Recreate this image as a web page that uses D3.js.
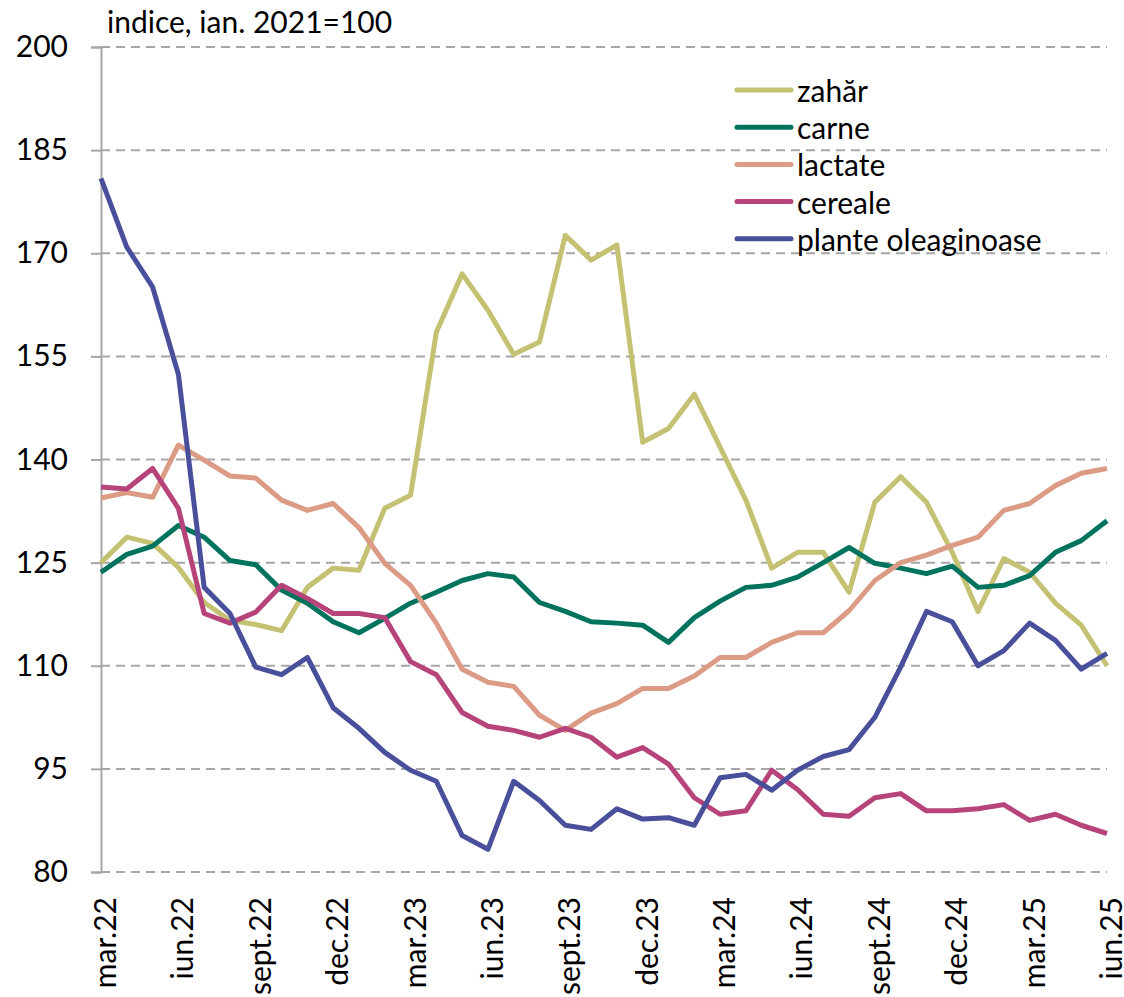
<!DOCTYPE html>
<html>
<head>
<meta charset="utf-8">
<script src="https://cdn.jsdelivr.net/npm/d3@7"></script>
<style>
  body { margin: 0; background: #fff; }
  svg text { font-family: Lato, "Liberation Sans", sans-serif; fill: #000; }
</style>
</head>
<body>
<div id="chart"></div>
<script>
const width = 1124,
    height = 997;

// luni, mar.22 - iun.25
const months = ['mar.22', 'apr.22', 'mai.22', 'iun.22', 'iul.22', 'aug.22', 'sept.22', 'oct.22', 'nov.22', 'dec.22',
    'ian.23', 'feb.23', 'mar.23', 'apr.23', 'mai.23', 'iun.23', 'iul.23', 'aug.23', 'sept.23', 'oct.23', 'nov.23', 'dec.23',
    'ian.24', 'feb.24', 'mar.24', 'apr.24', 'mai.24', 'iun.24', 'iul.24', 'aug.24', 'sept.24', 'oct.24', 'nov.24', 'dec.24',
    'ian.25', 'feb.25', 'mar.25', 'apr.25', 'mai.25', 'iun.25'];

const zahar = [125.0, 128.7, 127.8, 124.3, 119.2, 116.6, 116.0, 115.1, 121.4, 124.2,
    123.9, 132.9, 134.8, 158.5, 167.0, 161.7, 155.3, 157.1, 172.6, 169.0, 171.2, 142.5,
    144.5, 149.5, 141.8, 134.1, 124.2, 126.5, 126.5, 120.7, 133.8, 137.5, 133.8, 126.5,
    117.9, 125.6, 123.6, 119.1, 115.9, 110.0];

const carne = [123.6, 126.2, 127.4, 130.4, 128.7, 125.3, 124.7, 121.0, 119.1, 116.4,
    114.8, 116.9, 119.1, 120.7, 122.4, 123.4, 122.9, 119.2, 117.9, 116.4, 116.2, 115.9,
    113.4, 117.0, 119.4, 121.4, 121.7, 122.9, 125.0, 127.2, 124.9, 124.2, 123.4, 124.5,
    121.4, 121.7, 123.1, 126.5, 128.2, 131.1];

const lactate = [134.4, 135.2, 134.5, 142.1, 139.9, 137.6, 137.3, 134.1, 132.6, 133.6,
    130.1, 124.9, 121.7, 116.2, 109.5, 107.6, 107.0, 102.8, 100.6, 103.1, 104.5, 106.7,
    106.7, 108.5, 111.2, 111.2, 113.4, 114.8, 114.8, 118.0, 122.4, 125.0, 126.1, 127.5,
    128.7, 132.6, 133.6, 136.2, 138.0, 138.7];

const cereale = [136.0, 135.7, 138.7, 132.9, 117.6, 116.2, 117.8, 121.7, 119.8, 117.6,
    117.6, 117.0, 110.6, 108.7, 103.2, 101.2, 100.6, 99.6, 100.9, 99.6, 96.7, 98.1,
    95.7, 90.8, 88.4, 88.9, 94.8, 92.0, 88.4, 88.1, 90.8, 91.4, 88.9, 88.9,
    89.2, 89.8, 87.5, 88.4, 86.8, 85.6];

const plante = [180.9, 170.9, 165.1, 152.4, 121.4, 117.6, 109.8, 108.7, 111.2, 103.9,
    100.9, 97.4, 94.8, 93.2, 85.3, 83.3, 93.2, 90.4, 86.8, 86.2, 89.2, 87.7,
    87.9, 86.8, 93.7, 94.2, 91.9, 94.8, 96.8, 97.8, 102.5, 109.8, 117.9, 116.4,
    110.0, 112.2, 116.2, 113.7, 109.5, 111.8];

const yTicks = [80, 95, 110, 125, 140, 155, 170, 185, 200];

const series = [
    {name: 'zahăr', values: zahar, color: '#c4c172'},
    {name: 'carne', values: carne, color: '#00735f'},
    {name: 'lactate', values: lactate, color: '#dc9b85'},
    {name: 'cereale', values: cereale, color: '#b6437a'},
    {name: 'plante oleaginoase', values: plante, color: '#4a4f9c'}
];

const margin = {left: 101, right: 17, top: 47, bottom: 125};

let svg = d3.select('#chart').append('svg')
    .attr('width', width)
    .attr('height', height);

let x = d3.scalePoint()
    .domain(months)
    .range([margin.left, width - margin.right]);

let y = d3.scaleLinear()
    .domain([80, 200])
    .range([height - margin.bottom, margin.top]);

// grid
svg.append('g')
    .selectAll('line')
    .data(yTicks)
    .enter().append('line')
    .attr('x1', margin.left)
    .attr('x2', width - margin.right)
    .attr('y1', d => y(d))
    .attr('y2', d => y(d))
    .attr('stroke', '#a6a6a6')
    .attr('stroke-width', 2)
    .attr('stroke-dasharray', '9,6');

// y axis
let yAxis = svg.append('g')
    .attr('transform', 'translate(' + margin.left + ',0)')
    .call(d3.axisLeft(y).tickValues(yTicks).tickSize(10).tickPadding(23));
yAxis.select('.domain').attr('stroke', '#a6a6a6').attr('stroke-width', 2);
yAxis.selectAll('.tick line').attr('stroke', '#a6a6a6').attr('stroke-width', 2);
yAxis.selectAll('text').style('font-size', '30px');

// x labels
svg.append('g')
    .selectAll('text')
    .data(months.filter((d, i) => i % 3 === 0))
    .enter().append('text')
    .attr('transform', d => 'translate(' + (x(d) + 3) + ',' + (y(80) + 25) + ') rotate(-90)')
    .attr('text-anchor', 'end')
    .attr('dominant-baseline', 'central')
    .style('font-size', '30px')
    .text(d => d);

// lines
let line = d3.line()
    .x((d, i) => x(months[i]))
    .y(d => y(d));

svg.append('g')
    .selectAll('path')
    .data(series)
    .enter().append('path')
    .attr('d', d => line(d.values))
    .attr('fill', 'none')
    .attr('stroke', d => d.color)
    .attr('stroke-width', 5)
    .attr('stroke-linejoin', 'round');

// legend
let legend = svg.append('g')
    .selectAll('g')
    .data(series)
    .enter().append('g')
    .attr('transform', (d, i) => 'translate(737,' + (90 + i * 37.2) + ')');

legend.append('line')
    .attr('x1', 0)
    .attr('x2', 54)
    .attr('stroke', d => d.color)
    .attr('stroke-width', 5)
    .attr('stroke-linecap', 'round');

legend.append('text')
    .attr('x', 60)
    .attr('dominant-baseline', 'central')
    .style('font-size', '30px')
    .text(d => d.name);

// titlu axa
svg.append('text')
    .attr('x', 107)
    .attr('y', 33)
    .style('font-size', '30px')
    .text('indice, ian. 2021=100');
</script>
</body>
</html>
